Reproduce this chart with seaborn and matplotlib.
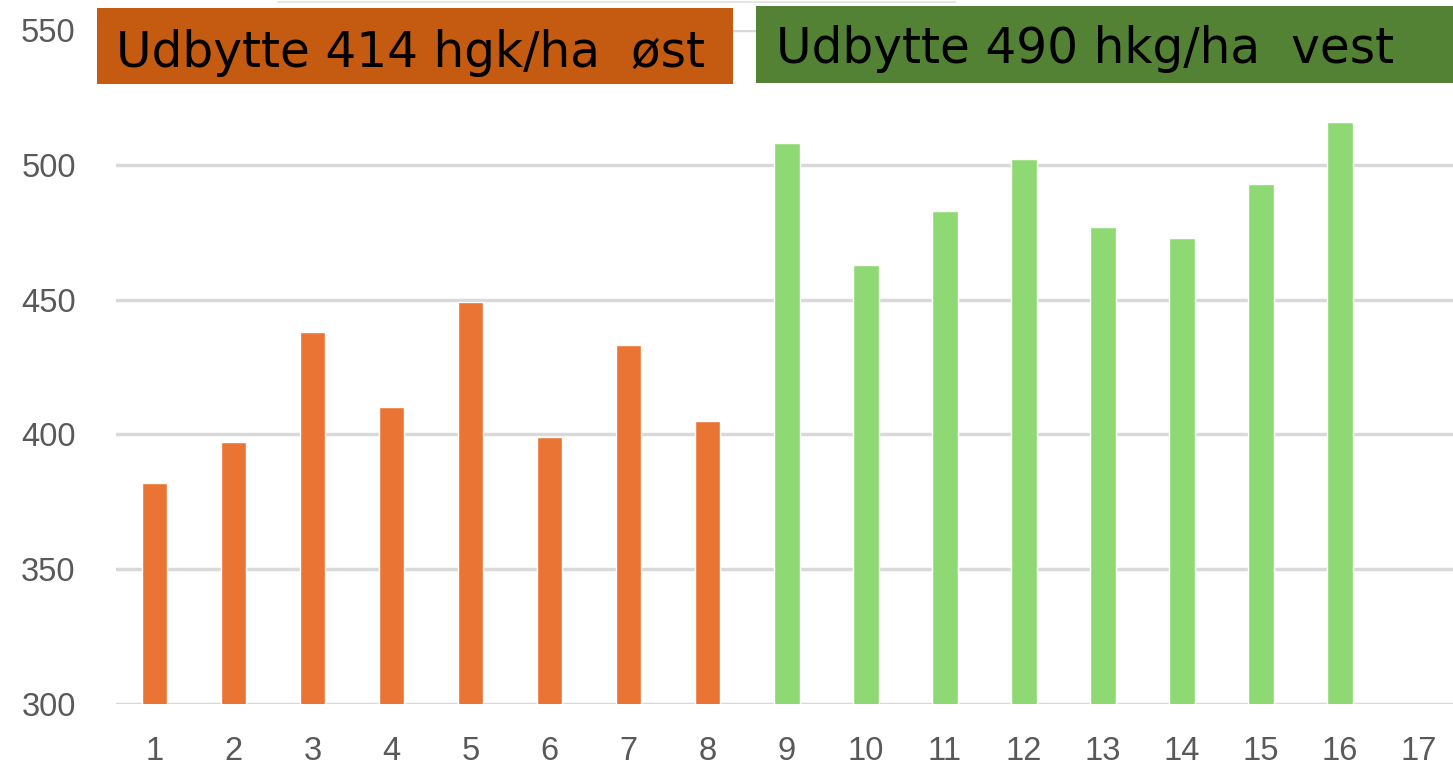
import pandas as pd
import matplotlib.pyplot as plt
import seaborn as sns
from matplotlib.patches import Rectangle
from matplotlib.lines import Line2D

# data
parceller = [str(i) for i in range(1, 18)]
udbytte = [382, 397, 438, 410, 449, 399, 433, 405,
           508, 463, 483, 502, 477, 473, 493, 516, None]
omraade = ['øst'] * 8 + ['vest'] * 8 + ['vest']
yticks = [300, 350, 400, 450, 500, 550]

farver = {'øst': '#E97433', 'vest': '#8ED973'}

df = pd.DataFrame({'parcel': parceller, 'udbytte': udbytte, 'omraade': omraade})

sns.set_style("white")
plt.rcParams['font.family'] = ['Liberation Sans', 'DejaVu Sans']

fig = plt.figure(figsize=(14.53, 7.68), dpi=100)
ax = fig.add_axes([116 / 1453, 64 / 768, 1 - 116 / 1453, (704 - 30) / 768])

sns.barplot(data=df, x='parcel', y='udbytte', hue='omraade', order=parceller,
            palette=farver, dodge=False, width=0.32, legend=False, ax=ax,
            saturation=1, zorder=3)

ax.set_ylim(300, 550)
ax.set_xlim(-0.49, 16.43)
ax.set_yticks(yticks)
ax.yaxis.grid(True, color='#d9d9d9', linewidth=2.5, zorder=0)
ax.set_axisbelow(True)
for s in ax.spines.values():
    s.set_visible(False)
ax.tick_params(axis='both', length=0, labelsize=23.5, labelcolor='#595959')
ax.tick_params(axis='x', pad=23)
ax.tick_params(axis='y', pad=29)
ax.set_xlabel('')
ax.set_ylabel('')

# faint line at the very top
fig.add_artist(Line2D([278 / 1453, 955 / 1453], [1 - 1.5 / 768, 1 - 1.5 / 768],
                      color='#e4e4e4', linewidth=1.5))

# the two header boxes
W, H = 1453, 768
fig.add_artist(Rectangle((97 / W, 1 - 84 / H), (733 - 97) / W, (84 - 8) / H,
                         facecolor='#C55A11', edgecolor='none'))
fig.add_artist(Rectangle((756 / W, 1 - 83 / H), (1453 - 756) / W, (83 - 6) / H,
                         facecolor='#548235', edgecolor='none'))
fig.text(116 / W, 1 - 67 / H, 'Udbytte 414 hgk/ha  øst', fontsize=35,
         family=['DejaVu Sans'], va='baseline', ha='left', color='black')
fig.text(776 / W, 1 - 63 / H, 'Udbytte 490 hkg/ha  vest', fontsize=35,
         family=['DejaVu Sans'], va='baseline', ha='left', color='black')

fig.savefig('out.png', dpi=100)
